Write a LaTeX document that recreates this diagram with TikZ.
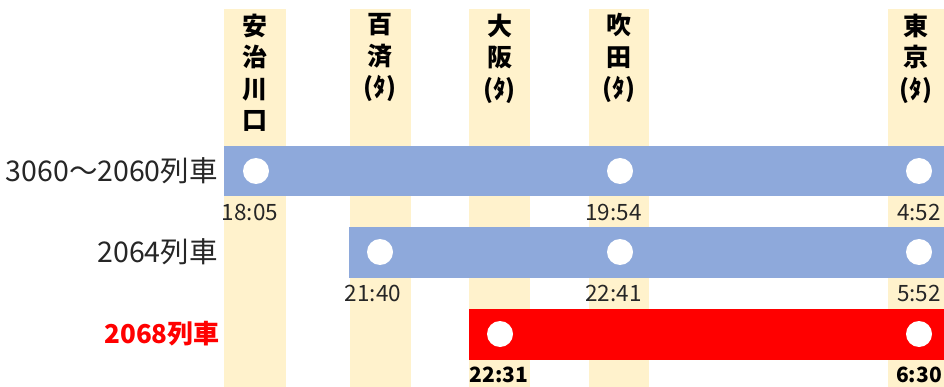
\documentclass[tikz,border=0pt]{standalone}
\usepackage{fontspec}
\setmainfont{Noto Sans CJK JP}
\definecolor{colbg}{HTML}{FFF2CC}
\definecolor{barblue}{HTML}{8EA9DB}
\definecolor{barred}{HTML}{FF0000}
\definecolor{txtgray}{HTML}{262626}
\tikzset{
  colband/.style={fill=colbg, draw=none},
  hdr/.style={anchor=north, inner sep=0pt, align=center, font=\bfseries\fontsize{25}{31.5}\selectfont},
  stopdot/.style={circle, fill=white, draw=none, minimum size=26pt, inner sep=0pt},
  tlabel/.style={inner sep=0pt, text=txtgray, font=\fontsize{22.5}{22.5}\selectfont},
  tbold/.style={inner sep=0pt, text=black, font=\bfseries\fontsize{21}{21}\selectfont},
  rlabel/.style={anchor=east, inner sep=0pt, text=txtgray, font=\fontsize{28.5}{28.5}\selectfont},
}
\begin{document}
\begin{tikzpicture}[x=1pt,y=-1pt]
\useasboundingbox (0,0) rectangle (944,387);
% station columns
\fill[colband] (224,9) rectangle (286,387);
\fill[colband] (350,9) rectangle (411,387);
\fill[colband] (469,9) rectangle (530,387);
\fill[colband] (589,9) rectangle (649,387);
\fill[colband] (888,9) rectangle (944,387);
% headers
\node[hdr] (h1) at (255,13.5) {安\\治\\川\\口};
\node[hdr] (h2) at (380,13.5) {百\\済\\(ﾀ)};
\node[hdr] (h3) at (499.5,13.5) {大\\阪\\(ﾀ)};
\node[hdr] (h4) at (619,13.5) {吹\\田\\(ﾀ)};
\node[hdr] (h5) at (916,13.5) {東\\京\\(ﾀ)};
% bars
\fill[barblue] (224,146) rectangle (944,196);
\fill[barblue] (349,227) rectangle (944,278);
\fill[barred] (469,309) rectangle (944,360);
% stops
\node[stopdot] (a1) at (256,171) {};
\node[stopdot] (a4) at (620,171) {};
\node[stopdot] (a5) at (919,171) {};
\node[stopdot] (b2) at (380,252) {};
\node[stopdot] (b4) at (620,252) {};
\node[stopdot] (b5) at (919,252) {};
\node[stopdot] (c3) at (500,334) {};
\node[stopdot] (c5) at (919,334) {};
% row labels
\node[rlabel] (r1) at (218,171) {3060～2060列車};
\node[rlabel] (r2) at (218,252) {2064列車};
\node[rlabel, text=barred, font=\bfseries\fontsize{26}{26}\selectfont] (r3) at (220,334) {2068列車};
% times
\node[tlabel] (t11) at (250,212) {18:05};
\node[tlabel] (t14) at (613.5,212) {19:54};
\node[tlabel] (t15) at (919,212) {4:52};
\node[tlabel] (t22) at (373,293) {21:40};
\node[tlabel] (t24) at (613.5,293) {22:41};
\node[tlabel] (t25) at (919,293) {5:52};
\node[tbold] (t33) at (499,375) {22:31};
\node[tbold] (t35) at (919,375) {6:30};
\end{tikzpicture}
\end{document}
